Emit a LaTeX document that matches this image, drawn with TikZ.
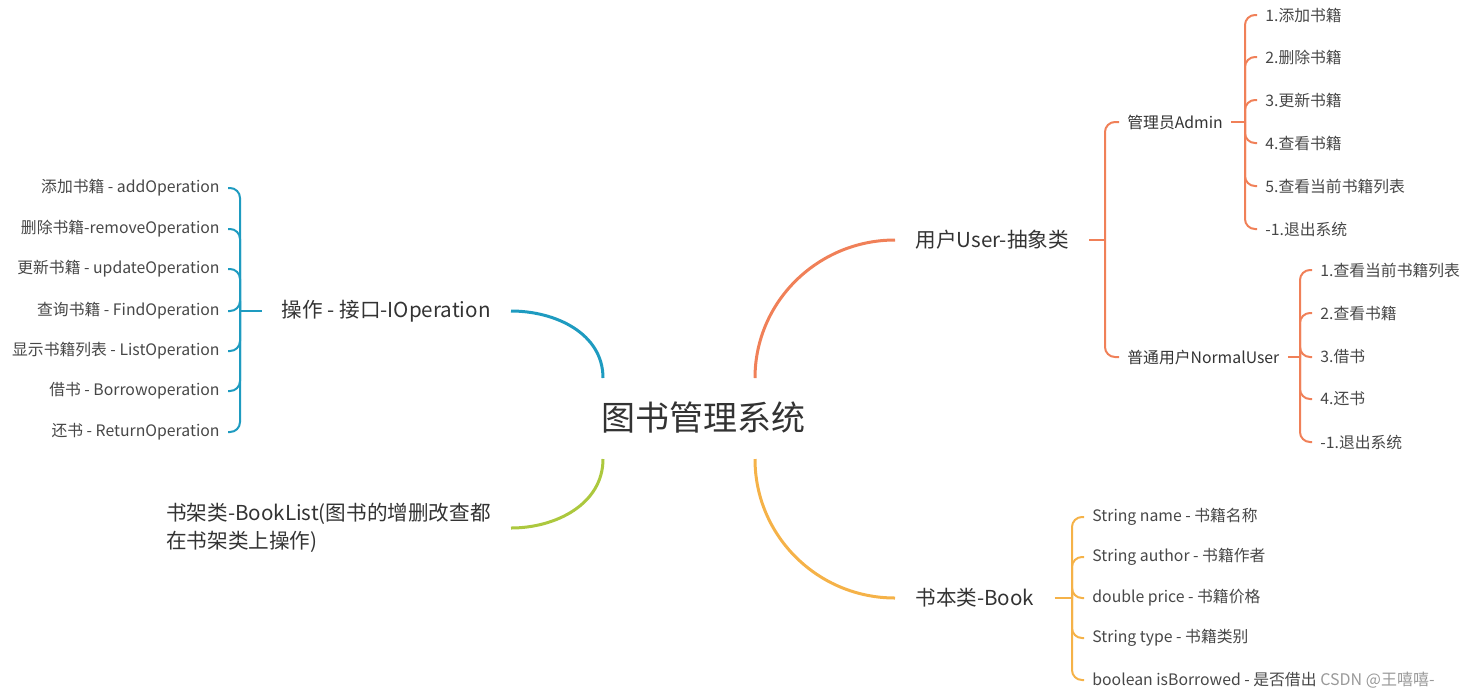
\documentclass[tikz,border=0pt]{standalone}
\usepackage{fontspec}
\setmainfont{Noto Sans CJK SC}
\usetikzlibrary{calc}
\definecolor{opsblue}{RGB}{30,155,192}
\definecolor{shelfgreen}{RGB}{172,200,62}
\definecolor{usercoral}{RGB}{240,128,88}
\definecolor{bookgold}{RGB}{245,178,72}
\definecolor{txt}{RGB}{51,51,51}

\begin{document}
\begin{tikzpicture}[
    x=0.5pt, y=-0.5pt,
    branch/.style={line width=1.5pt, draw=#1},
    twig/.style={line width=1pt, draw=#1, rounded corners=5pt},
    topic/.style={inner xsep=10pt, inner ysep=2pt, font=\fontsize{10.3}{14}\selectfont, text=txt},
    sub/.style={inner xsep=4pt, inner ysep=1pt, font=\fontsize{7.9}{9.5}\selectfont, text=txt},
    leaf/.style={inner xsep=4pt, inner ysep=1pt, font=\fontsize{7.9}{9.5}\selectfont, text=txt!90}
]
\useasboundingbox (0,0) rectangle (1468,698);

% centre
\node[font=\fontsize{17}{20}\selectfont, text=txt] (root) at (703,418) {图书管理系统};

% main topics
\node[topic, anchor=east] (ops) at (511,311) {操作 - 接口-IOperation};
\node[topic, anchor=east, align=left] (shelf) at (511,528) {书架类-BookList(图书的增删改查都\\在书架类上操作)};
\node[topic, anchor=west] (user) at (895,240) {用户User-抽象类};
\node[topic, anchor=west] (book) at (895,598) {书本类-Book};

\draw[branch=opsblue] ($(root)+(-100,-40)$) to[out=90, in=0] (ops.east);
\draw[branch=shelfgreen] ($(root)+(-100,41)$) to[out=-90, in=0] (shelf.east);
\draw[branch=usercoral] ($(root)+(52,-40)$) to[out=90, in=180] (user.west);
\draw[branch=bookgold] ($(root)+(52,41)$) to[out=-90, in=180] (book.west);

% IOperation
\coordinate (jops) at (240,311);
\draw[twig=opsblue] (ops.west) -- (jops);
\foreach \y/\t [count=\i] in {188/{添加书籍 - addOperation}, 229/{删除书籍-removeOperation},
    269/{更新书籍 - updateOperation}, 311/{查询书籍 - FindOperation},
    351/{显示书籍列表 - ListOperation}, 391/{借书 - Borrowoperation}, 432/{还书 - ReturnOperation}} {
  \node[leaf, anchor=east] (op\i) at (228,\y) {\t};
  \draw[twig=opsblue] (jops) |- (op\i.east);
}

% User
\coordinate (juser) at (1105,240);
\draw[twig=usercoral] (user.east) -- (juser);
\node[sub, anchor=west] (admin) at (1119,122) {管理员Admin};
\node[sub, anchor=west] (normal) at (1119,357) {普通用户NormalUser};
\draw[twig=usercoral] (juser) |- (admin.west);
\draw[twig=usercoral] (juser) |- (normal.west);

\coordinate (jadmin) at (1245,122);
\draw[twig=usercoral] (admin.east) -- (jadmin);
\foreach \y/\t [count=\i] in {15/{1.添加书籍}, 57/{2.删除书籍}, 100/{3.更新书籍},
    143/{4.查看书籍}, 186/{5.查看当前书籍列表}, 229/{-1.退出系统}} {
  \node[leaf, anchor=west] (ad\i) at (1257,\y) {\t};
  \draw[twig=usercoral] (jadmin) |- (ad\i.west);
}

\coordinate (jnormal) at (1300,357);
\draw[twig=usercoral] (normal.east) -- (jnormal);
\foreach \y/\t [count=\i] in {270/{1.查看当前书籍列表}, 313/{2.查看书籍}, 357/{3.借书},
    399/{4.还书}, 442/{-1.退出系统}} {
  \node[leaf, anchor=west] (nu\i) at (1312,\y) {\t};
  \draw[twig=usercoral] (jnormal) |- (nu\i.west);
}

% Book
\coordinate (jbook) at (1072,598);
\draw[twig=bookgold] (book.east) -- (jbook);
\foreach \y/\t [count=\i] in {517/{String name - 书籍名称}, 557/{String author - 书籍作者},
    598/{double price - 书籍价格}, 638/{String type - 书籍类别}, 680/{boolean isBorrowed - 是否借出}} {
  \node[leaf, anchor=west] (bk\i) at (1084,\y) {\t};
  \draw[twig=bookgold] (jbook) |- (bk\i.west);
}

\node[font=\fontsize{8}{10}\selectfont, text=gray!80, anchor=west, inner sep=0pt] (mark) at (1320,680) {CSDN @王嘻嘻-};
\end{tikzpicture}
\end{document}
